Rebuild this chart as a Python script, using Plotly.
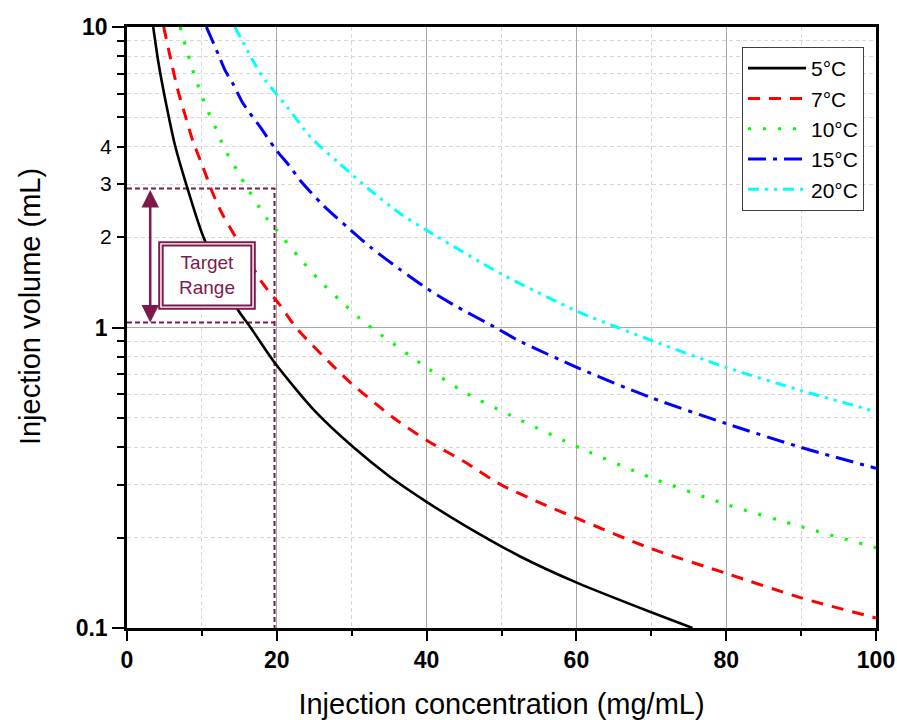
import math
import plotly.graph_objects as go

# ---------------- data ----------------
temps = ["5°C", "7°C", "10°C", "15°C", "20°C"]

conc_5 = [3.5, 4.2, 5.1, 6.4, 7.9, 10.2, 14.7, 16.5, 19.8, 25.0, 30.2, 35.0, 40.1, 45.0, 52.5, 60.2, 69.9, 75.5]
vol_5 = [10, 7.6, 5.75, 4.05, 3.0, 2.0, 1.157, 1.0, 0.759, 0.53, 0.40, 0.32, 0.262, 0.22, 0.173, 0.141, 0.113, 0.1]

conc_7 = [4.9, 6.0, 6.8, 7.8, 8.8, 10.1, 11.4, 12.7, 14.5, 18.0, 20.5, 22.7, 27.5, 30.0, 35.6, 40.1, 45.0, 49.9, 55.0, 60.2, 69.9, 80.0, 90.0, 100]
vol_7 = [10, 7.49, 6.15, 5.05, 4.17, 3.44, 2.82, 2.39, 2.0, 1.415, 1.18, 0.99, 0.745, 0.65, 0.50, 0.42, 0.358, 0.30, 0.262, 0.231, 0.184, 0.152, 0.126, 0.108]

conc_10 = [7.1, 7.9, 8.5, 9.1, 9.9, 10.6, 11.5, 12.3, 13.2, 14.3, 15.3, 18.7, 20.1, 22.9, 25.7, 28.6, 31.7, 33.5, 40.2, 45.0, 51.2, 60.6, 70.3, 80.2, 90.4, 100]
vol_10 = [10, 8.5, 7.59, 6.78, 6.0, 5.38, 4.82, 4.32, 3.86, 3.47, 3.13, 2.30, 2.09, 1.72, 1.434, 1.22, 1.04, 0.962, 0.73, 0.61, 0.51, 0.396, 0.314, 0.257, 0.216, 0.185]

conc_15 = [10.6, 12.2, 13.1, 14.2, 15.4, 16.4, 17.8, 19.8, 21.8, 23.1, 26.2, 29.4, 32.5, 36.3, 40.1, 43.6, 49.5, 52.1, 60.2, 69.9, 80.0, 90.0, 100]
vol_15 = [10, 8.1, 7.17, 6.44, 5.62, 5.17, 4.64, 3.93, 3.42, 3.09, 2.55, 2.16, 1.85, 1.57, 1.345, 1.19, 0.99, 0.91, 0.734, 0.585, 0.479, 0.399, 0.34]

conc_20 = [14.4, 16.8, 18.0, 19.9, 21.4, 24.5, 28.4, 32.2, 36.5, 40.1, 49.9, 60.2, 65.5, 70.3, 80.0, 90.0, 100]
vol_20 = [10, 7.74, 6.89, 6.0, 5.41, 4.30, 3.51, 2.90, 2.39, 2.10, 1.51, 1.13, 1.0, 0.90, 0.736, 0.617, 0.525]

# target range
target_vol_low = 1.04
target_vol_high = 2.9
target_conc = 19.7
target_label = "Target<br>Range"

x_tick_vals = [0, 20, 40, 60, 80, 100]
y_major_vals = [0.1, 1, 10]
y_major_text = ["0.1", "1", "10"]
y_minor_label_vals = [2, 3, 4]
y_minor_vals = [0.2, 0.3, 0.4, 0.5, 0.6, 0.7, 0.8, 0.9, 2, 3, 4, 5, 6, 7, 8, 9]

# ---------------- styles ----------------
FONT = "Liberation Sans, Arial, sans-serif"
MAROON = "#7D1A4C"
styles = [
    dict(color="#000000", dash="solid", width=2.6),
    dict(color="#FF0000", dash="12px,9px", width=3),
    dict(color="#00FF00", dash="3px,12px", width=3.2),
    dict(color="#0000FF", dash="18px,7px,4px,7px", width=3),
    dict(color="#00FFFF", dash="11px,6px,3px,6px,3px,6px", width=3),
]

concs = [conc_5, conc_7, conc_10, conc_15, conc_20]
vols = [vol_5, vol_7, vol_10, vol_15, vol_20]

fig = go.Figure()

# target range dashed guide lines (drawn first, under the curves)
fig.add_trace(go.Scatter(
    x=[0, target_conc, target_conc], y=[target_vol_high, target_vol_high, 0.1],
    mode="lines", line=dict(color=MAROON, width=2, dash="5px,3px"),
    showlegend=False, hoverinfo="skip"))
fig.add_trace(go.Scatter(
    x=[0, target_conc], y=[target_vol_low, target_vol_low],
    mode="lines", line=dict(color=MAROON, width=2, dash="5px,3px"),
    showlegend=False, hoverinfo="skip"))

for name, cx, vy, st in zip(temps, concs, vols, styles):
    fig.add_trace(go.Scatter(
        x=cx, y=vy, name=name, mode="lines",
        line=dict(color=st["color"], dash=st["dash"], width=st["width"],
                  shape="spline", smoothing=0.7)))

# helper axis only used to label 2, 3, 4
fig.add_trace(go.Scatter(x=[None], y=[None], yaxis="y2", showlegend=False))

# double-bordered text box
fig.add_shape(type="rect", xref="x", yref="y", x0=4.3, x1=17.06, y0=1.154, y1=1.923,
              line=dict(color=MAROON, width=2), fillcolor="white", layer="above")
fig.add_shape(type="rect", xref="x", yref="y", x0=4.76, x1=16.6, y0=1.184, y1=1.875,
              line=dict(color=MAROON, width=2), layer="above")

fig.add_annotation(x=10.7, y=math.log10(1.49), xref="x", yref="y", text=target_label,
                   showarrow=False, font=dict(family=FONT, size=19, color=MAROON),
                   align="center")

# double-headed arrow
fig.add_annotation(x=3.1, y=math.log10(target_vol_low), ax=3.1, ay=math.log10(target_vol_high),
                   xref="x", yref="y", axref="x", ayref="y", text="",
                   showarrow=True, arrowhead=2, startarrowhead=2, arrowside="end+start",
                   arrowsize=1.4, startarrowsize=1.4, arrowwidth=2.5, arrowcolor=MAROON,
                   standoff=0, startstandoff=0)

# y-axis title
fig.add_annotation(x=(30 - 127) / 749, y=0.534, xref="paper", yref="paper",
                   text="Injection volume (mL)",
                   textangle=-90, showarrow=False, xanchor="center", yanchor="middle",
                   font=dict(family=FONT, size=29, color="black"))

fig.update_layout(
    width=897, height=720,
    margin=dict(l=127, r=21, t=27, b=92, autoexpand=False),
    paper_bgcolor="white", plot_bgcolor="white",
    font=dict(family=FONT, color="black"),
    xaxis=dict(
        range=[0, 100], tickmode="array", tickvals=x_tick_vals,
        ticktext=["<b>%d</b>" % v for v in x_tick_vals], automargin=False,
        ticks="outside", ticklen=10, tickwidth=2, tickcolor="black",
        tickfont=dict(family=FONT, size=23, color="black"),
        showline=True, linecolor="black", linewidth=2.5, mirror=True,
        showgrid=True, gridcolor="#A8A8A8", gridwidth=1, zeroline=False,
        minor=dict(dtick=10, tick0=0, ticks="outside", ticklen=5, tickwidth=2, tickcolor="black",
                   showgrid=True, gridcolor="#D6D6D6", griddash="4px,3px", gridwidth=1),
        title=dict(text="Injection concentration (mg/mL)",
                   font=dict(family=FONT, size=29, color="black"), standoff=22),
    ),
    yaxis=dict(
        type="log", range=[-1, 1], tickmode="array", tickvals=y_major_vals,
        ticktext=["<b>%s</b>" % t for t in y_major_text], automargin=False,
        ticks="outside", ticklen=12, tickwidth=2, tickcolor="black",
        tickfont=dict(family=FONT, size=23, color="black"),
        showline=True, linecolor="black", linewidth=2.5, mirror=True,
        showgrid=True, gridcolor="#A8A8A8", gridwidth=1, zeroline=False,
        minor=dict(tickmode="array", tickvals=y_minor_vals, ticks="outside", ticklen=7,
                   tickwidth=2, tickcolor="black",
                   showgrid=True, gridcolor="#D6D6D6", griddash="4px,3px", gridwidth=1),
    ),
    yaxis2=dict(
        type="log", range=[-1, 1], overlaying="y", side="left", anchor="x",
        tickmode="array", tickvals=y_minor_label_vals, automargin=False,
        ticktext=[str(v) for v in y_minor_label_vals],
        ticks="outside", ticklen=10, tickcolor="rgba(0,0,0,0)",
        tickfont=dict(family=FONT, size=21, color="black"),
        showline=False, showgrid=False, zeroline=False,
    ),
    legend=dict(
        x=(864 - 127) / 749, xanchor="right", y=(628 - 47) / 601, yanchor="top",
        bgcolor="white", bordercolor="#404040", borderwidth=1,
        font=dict(family=FONT, size=21, color="black"),
        itemwidth=58, tracegroupgap=0,
    ),
    showlegend=True,
)

# remove the default page margin so the 897x720 figure fills the window exactly
fig.write_html("out.html", config={"displayModeBar": False},
               post_script="document.body.style.margin='0';document.body.style.overflow='hidden';")
